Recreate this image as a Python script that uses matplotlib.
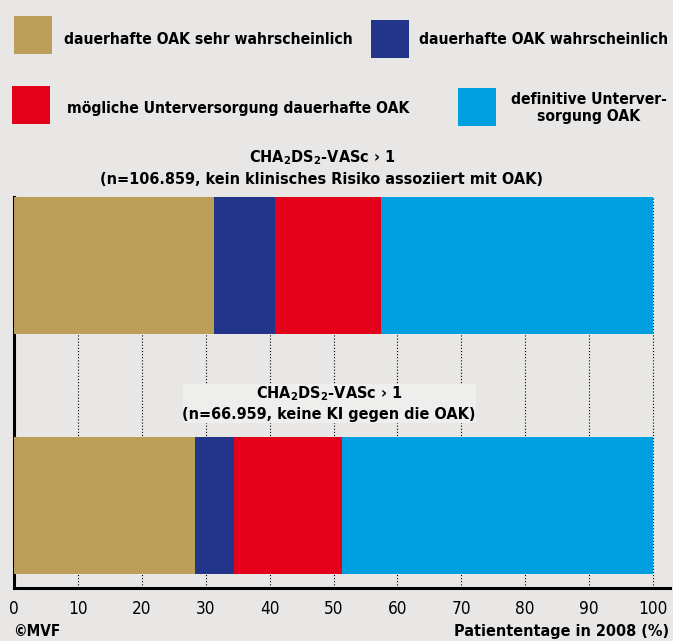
import matplotlib
matplotlib.use("Agg")
import matplotlib.pyplot as plt
from matplotlib import font_manager
from matplotlib.patches import Rectangle

# ---------------- data ----------------
groups = ["n=106.859", "n=66.959"]
sehr_wahrscheinlich = [31.3, 28.4]
wahrscheinlich = [9.5, 6.1]
moegliche_unterversorgung = [16.7, 16.9]
definitive_unterversorgung = [42.5, 48.6]

series_labels = [
    "dauerhafte OAK sehr wahrscheinlich",
    "dauerhafte OAK wahrscheinlich",
    "mögliche Unterversorgung dauerhafte OAK",
    "definitive Unterver-\nsorgung OAK",
]
series_colors = ["#BB9E58", "#23358A", "#E2001A", "#009FE0"]
x_ticks = [0, 10, 20, 30, 40, 50, 60, 70, 80, 90, 100]
x_label = "Patiententage in 2008 (%)"
title_top = [r"CHA$_2$DS$_2$-VASc › 1", "(n=106.859, kein klinisches Risiko assoziiert mit OAK)"]
title_bottom = [r"CHA$_2$DS$_2$-VASc › 1", "(n=66.959, keine KI gegen die OAK)"]
credit = "©MVF"

# ---------------- fonts ----------------
names = {f.name for f in font_manager.fontManager.ttflist}
stretch = "normal"
if "Liberation Sans Narrow" in names:
    fam = "Liberation Sans Narrow"
else:
    fam = "DejaVu Sans"
    stretch = "condensed"
plt.rcParams["font.family"] = [fam, "DejaVu Sans"]
plt.rcParams["font.stretch"] = stretch
plt.rcParams["mathtext.fontset"] = "custom"
plt.rcParams["mathtext.bf"] = fam + ":bold"
plt.rcParams["mathtext.rm"] = fam + ":bold"
plt.rcParams["mathtext.default"] = "bf"

BG = "#E8E7E5"
W, H = 673, 641
fig = plt.figure(figsize=(W / 100, H / 100), dpi=100, facecolor=BG)

def fx(px):
    return px / W

def fy(py):
    return 1 - py / H

# axes: left spine at x~14, bottom spine at y~588, top at y~197, right end ~670
ax = fig.add_axes([fx(14), fy(588), fx(670 - 14), (588 - 197) / H])
ax.set_facecolor(BG)

ypos = [1, 0]
h = 0.57
all_series = [sehr_wahrscheinlich, wahrscheinlich, moegliche_unterversorgung, definitive_unterversorgung]
left = [0.0, 0.0]
for vals, col in zip(all_series, series_colors):
    ax.barh(ypos, vals, left=left, height=h, color=col, edgecolor="none", zorder=3)
    left = [l + v for l, v in zip(left, vals)]

ax.set_ylim(-0.343, 1.283)
ax.set_xlim(0, 100 * (670 - 14) / (653 - 14))
for t in x_ticks[1:]:
    ax.axvline(t, color="black", linestyle=(0, (1.0, 1.8)), linewidth=0.8, zorder=1)

for s in ["top", "right"]:
    ax.spines[s].set_visible(False)
for s in ["left", "bottom"]:
    ax.spines[s].set_linewidth(2.2)
    ax.spines[s].set_color("black")
ax.set_yticks([])
ax.set_xticks(x_ticks)
ax.set_xticklabels([str(t) for t in x_ticks], fontsize=12.3)
ax.tick_params(axis="x", length=0, pad=9)

# ---------------- legend ----------------
leg_boxes = [(14, 16), (371, 20), (12, 86), (458, 88)]
for (x0, y0), col in zip(leg_boxes, series_colors):
    fig.patches.append(Rectangle((fx(x0), fy(y0 + 38)), fx(38), 38 / H,
                                 transform=fig.transFigure, facecolor=col, edgecolor="none"))
fs = 11.25
fig.text(fx(64), fy(40), series_labels[0], fontsize=fs, fontweight="bold", va="center", ha="left")
fig.text(fx(419), fy(40), series_labels[1], fontsize=fs, fontweight="bold", va="center", ha="left")
fig.text(fx(67), fy(108), series_labels[2], fontsize=fs, fontweight="bold", va="center", ha="left")
fig.text(fx(589), fy(108), series_labels[3], fontsize=fs, fontweight="bold", va="center",
         ha="center", multialignment="center", linespacing=1.25)

# ---------------- group titles ----------------
ft = 11.65
fig.text(fx(322), fy(158), title_top[0], fontsize=ft, fontweight="bold", ha="center", va="center")
fig.text(fx(322), fy(180), title_top[1], fontsize=ft, fontweight="bold", ha="center", va="center")

fig.patches.append(Rectangle((fx(183), fy(423)), fx(476 - 183), (423 - 384) / H,
                             transform=fig.transFigure, facecolor="#EEEFED", edgecolor="none", zorder=5))
fig.text(fx(329), fy(394), title_bottom[0], fontsize=ft, fontweight="bold", ha="center", va="center", zorder=6)
fig.text(fx(329), fy(414), title_bottom[1], fontsize=ft, fontweight="bold", ha="center", va="center", zorder=6)

# ---------------- axis label & credit ----------------
fig.text(fx(669), fy(636), x_label, fontsize=11.6, fontweight="bold", ha="right", va="baseline")
fig.text(fx(13), fy(636), credit, fontsize=11.0, fontweight="bold", ha="left", va="baseline")

fig.savefig("out.png", dpi=100, facecolor=BG)
